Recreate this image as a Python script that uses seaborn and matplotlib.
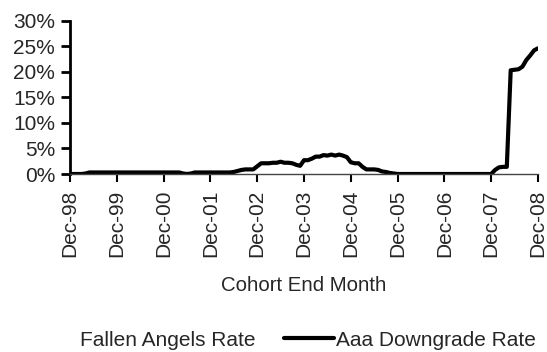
import matplotlib
matplotlib.use("Agg")
import matplotlib.pyplot as plt
import seaborn as sns
import pandas as pd
import numpy as np
from matplotlib.ticker import FuncFormatter
from matplotlib.lines import Line2D

# Monthly cohorts Dec-98 .. Dec-08 (121 months), values in %
aaa_downgrade = [
    0.0, 0.0, 0.0, 0.0, 0.1,                                   # Dec-98..Apr-99
    0.3, 0.3, 0.3, 0.3, 0.3, 0.3, 0.3, 0.3, 0.3, 0.3, 0.3, 0.3,  # May-99..Apr-00
    0.3, 0.3, 0.3, 0.3, 0.3, 0.3, 0.3, 0.3, 0.3, 0.3, 0.3, 0.3,  # May-00..Apr-01
    0.1, 0.0, 0.1,                                             # May-01..Jul-01
    0.3, 0.3, 0.3, 0.3, 0.3, 0.3, 0.3, 0.3, 0.3, 0.3,          # Aug-01..May-02
    0.4, 0.6, 0.8, 0.9, 0.9, 0.9, 1.5,                         # Jun-02..Dec-02
    2.1, 2.1, 2.1, 2.2, 2.2, 2.4, 2.2, 2.2, 2.1, 1.8, 1.6,     # Jan-03..Nov-03
    2.7, 2.7, 3.0, 3.4, 3.4, 3.7, 3.6, 3.8, 3.6, 3.8, 3.6,     # Dec-03..Oct-04
    3.3, 2.3, 2.1, 2.1, 1.4, 0.9, 0.9, 0.9, 0.8, 0.5, 0.4,     # Nov-04..Sep-05
    0.2, 0.1, 0.0,                                             # Oct-05..Dec-05
    0.0, 0.0, 0.0, 0.0, 0.0, 0.0, 0.0, 0.0, 0.0, 0.0, 0.0, 0.0,  # 2006
    0.0, 0.0, 0.0, 0.0, 0.0, 0.0, 0.0, 0.0, 0.0, 0.0, 0.0, 0.0,  # 2007
    0.8, 1.3, 1.4, 1.4, 20.3, 20.4, 20.5, 21.0, 22.3, 23.2, 24.2, 24.6,  # 2008
]
fallen_angels = [0.0] * len(aaa_downgrade)

tick_labels = ["Dec-98", "Dec-99", "Dec-00", "Dec-01", "Dec-02", "Dec-03",
               "Dec-04", "Dec-05", "Dec-06", "Dec-07", "Dec-08"]
series_names = ["Fallen Angels Rate", "Aaa Downgrade Rate"]

months = np.arange(len(aaa_downgrade))
df = pd.DataFrame({
    "month": np.concatenate([months, months]),
    "rate": np.array(fallen_angels + aaa_downgrade) / 100.0,
    "series": [series_names[0]] * len(months) + [series_names[1]] * len(months),
})

sns.set_style("white")
plt.rcParams["font.family"] = ["Liberation Sans", "DejaVu Sans"]

FS = 15
fig = plt.figure(figsize=(5.47, 3.52), dpi=100)
ax = fig.add_axes([70 / 547, 1 - 174 / 352, 468 / 547, (174 - 20.7) / 352])

sns.lineplot(data=df, x="month", y="rate", hue="series", hue_order=series_names,
             palette={series_names[0]: "white", series_names[1]: "black"},
             linewidth=3.0, ax=ax, legend=False)

ax.set_xlim(0, 120)
ax.set_ylim(0, 0.30)
ax.set_xticks(np.arange(0, 121, 12))
ax.set_xticklabels(tick_labels, rotation=90, fontsize=FS)
ax.set_yticks(np.arange(0, 0.301, 0.05))
ax.yaxis.set_major_formatter(FuncFormatter(lambda v, p: f"{v*100:.0f}%"))
ax.tick_params(axis="y", labelsize=FS, direction="out", length=6.5, width=2,
               left=True, color="black", pad=4.3)
ax.tick_params(axis="x", direction="out", length=6, width=1.5,
               bottom=True, color="black", pad=5)

for s in ["top", "right"]:
    ax.spines[s].set_visible(False)
ax.spines["left"].set_linewidth(2.0)
ax.spines["left"].set_color("black")
ax.spines["bottom"].set_linewidth(1.0)
ax.spines["bottom"].set_color("#444444")

ax.set_xlabel("Cohort End Month", fontsize=14.7, labelpad=14)
ax.set_ylabel("")

handles = [Line2D([], [], color="white", linewidth=3.0),
           Line2D([], [], color="black", linewidth=3.0)]
fig.legend(handles, series_names, loc="center",
           bbox_to_anchor=(282 / 547, 1 - 340 / 352), ncol=2, frameon=False,
           fontsize=FS, handlelength=2.4, handletextpad=0.1,
           columnspacing=1.4, borderpad=0)

fig.savefig("out.png", dpi=100)
